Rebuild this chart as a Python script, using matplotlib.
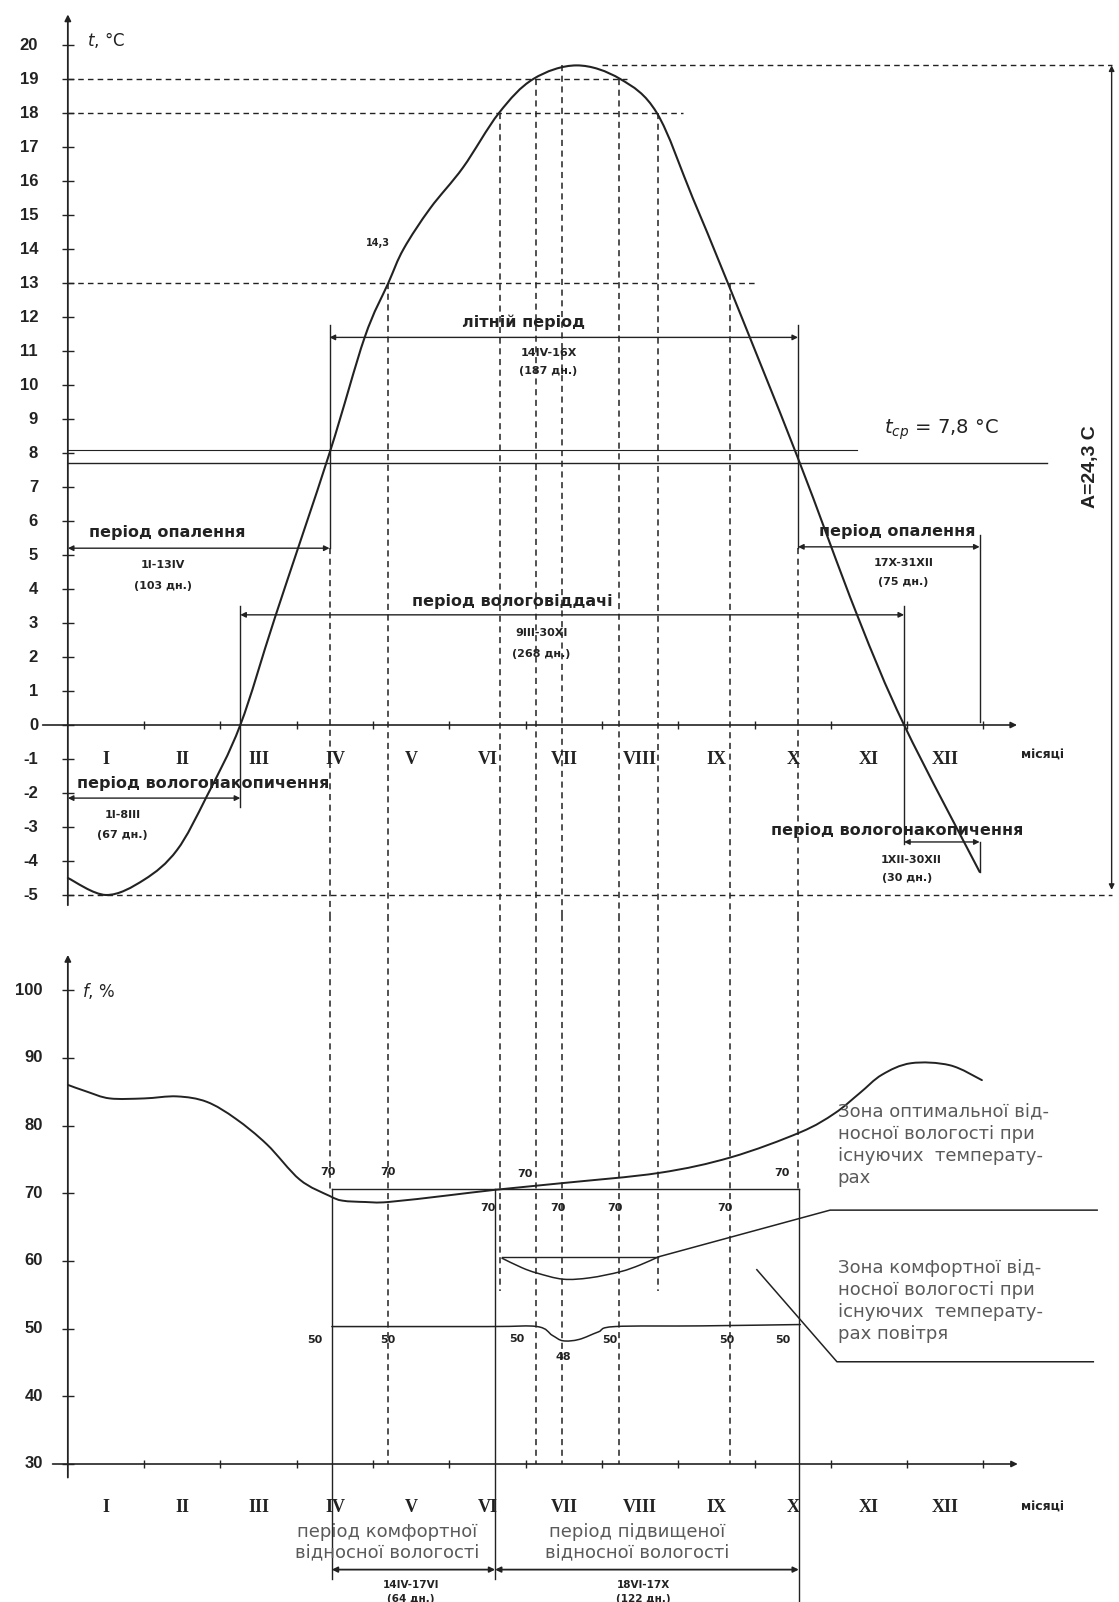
import numpy as np
import matplotlib
matplotlib.use("Agg")
import matplotlib.pyplot as plt
from matplotlib.path import Path
from matplotlib.patches import PathPatch

# ---- data (x = month number, I = 1 ... XII = 12) ----
months = ['I', 'II', 'III', 'IV', 'V', 'VI', 'VII', 'VIII', 'IX', 'X', 'XI', 'XII']

# mean air temperature, deg C
temp_x = [0.5, 1.0, 1.5, 1.93, 2.32, 2.76, 3.22, 3.93, 4.39, 4.70, 4.90, 5.25, 5.68,
          6.15, 6.60, 7.17, 7.74, 8.22, 8.69, 9.15, 10.06, 10.84, 11.46, 12.45]
temp_t = [-4.5, -5.0, -4.55, -3.68, -2.1, 0.0, 3.2, 8.0, 11.4, 13.0, 14.0, 15.2, 16.4,
          18.0, 19.0, 19.4, 19.0, 18.0, 15.5, 13.0, 7.9, 3.26, 0.0, -4.32]

# relative humidity, %
hum_x = [0.5, 0.75, 1.05, 1.5, 1.93, 2.32, 2.7, 3.11, 3.54, 3.93, 4.1, 4.4, 4.7, 5.5,
         6.1, 6.99, 8.25, 9.19, 10.1, 10.55, 10.88, 11.17, 11.55, 12.06, 12.48]
hum_f = [86.0, 85.0, 84.0, 84.0, 84.3, 83.5, 81.0, 77.2, 72.0, 69.6, 68.9, 68.7, 68.7,
         69.7, 70.5, 71.5, 73.0, 75.3, 79.0, 81.8, 84.8, 87.5, 89.2, 88.9, 86.7]

# lower bound of the optimal zone (50 % line with dip in July)
low_x = [3.96, 6.0, 6.65, 6.85, 6.99, 7.2, 7.45, 7.67, 8.8, 10.1]
low_f = [50.3, 50.3, 50.3, 49.0, 48.2, 48.4, 49.5, 50.3, 50.4, 50.6]
opt_top = 70.6

# comfort zone (June - August)
comf_top = 60.6
comf_x = [6.19, 6.45, 6.65, 6.99, 7.34, 7.74, 8.0, 8.24]
comf_f = [60.4, 59.0, 58.2, 57.3, 57.5, 58.4, 59.4, 60.6]
lead1_x = [8.24, 10.49, 13.99]
lead1_f = [60.6, 67.5, 67.5]
lead2_x = [9.53, 10.58, 13.94]
lead2_f = [58.7, 45.1, 45.1]

t_mean = 7.8
t_max, t_min = 19.4, -5.0
t_marks = [19, 18, 13]
t_mark_end = [7.83, 8.56, 9.5]

# periods (x positions of their dates)
summer = (3.93, 10.07)
heat_left = (0.5, 3.93)
heat_right = (10.07, 12.45)
moist_out = (2.76, 11.46)
moist_in_left = (0.5, 2.76)
moist_in_right = (11.46, 12.45)
comfort_per = (3.96, 6.10)
high_per = (6.10, 10.08)

# dashed guide lines: x, start temperature, end humidity
guide_x = [4.70, 6.17, 6.63, 6.98, 7.73, 8.24, 9.18]
guide_t = [13.0, 18.0, 19.0, 19.4, 19.0, 18.0, 13.0]
guide_f = [30, 55.5, 30, 30, 30, 55.5, 30]

t_ticks = list(range(-5, 21))
f_ticks = [30, 40, 50, 60, 70, 80, 90, 100]

# small value labels in the humidity chart
f_lab_x = [3.91, 4.70, 6.49, 9.86, 6.0, 6.92, 7.67, 9.11,
           3.74, 4.70, 6.39, 7.6, 9.14, 9.87, 6.99]
f_lab_y = [73.1, 73.1, 72.9, 73.0, 67.8, 67.8, 67.8, 67.8,
           48.3, 48.3, 48.5, 48.3, 48.3, 48.3, 45.8]
f_lab_s = ['70', '70', '70', '70', '70', '70', '70', '70',
           '50', '50', '50', '50', '50', '50', '48']

# ---- figure ----
W, H = 1119, 1602
split = 915
fig = plt.figure(figsize=(W / 100, H / 100), dpi=100)
fig.patch.set_facecolor('white')

xl = (1 + (0 - 106) / 76.3, 1 + (W - 106) / 76.3)
ax1 = fig.add_axes([0, (H - split) / H, 1, split / H])
ax2 = fig.add_axes([0, 0, 1, (H - split) / H])
ax1.set_xlim(*xl)
ax1.set_ylim((725 - split) / 34, 725 / 34)
ax2.set_xlim(*xl)
ax2.set_ylim(30 + (1464 - H) / 6.77, 30 + (1464 - split) / 6.77)
for a in (ax1, ax2):
    a.axis('off')

INK = '#222222'
DASH = (0, (4, 3))
bold = dict(family='DejaVu Sans', fontweight='bold', color=INK)
numf = dict(family='Liberation Sans', fontweight='bold', color=INK)
roman = dict(family='Liberation Serif', fontweight='bold', color=INK, fontsize=13)
note = dict(family='DejaVu Sans', color='#5a5a5a', fontsize=13)


def smooth(ax, xs, ys, lw=1.4):
    # Catmull-Rom through the read points, drawn as cubic Bezier path
    p = np.column_stack([xs, ys]).astype(float)
    verts = [p[0]]
    codes = [Path.MOVETO]
    n = len(p)
    for i in range(n - 1):
        p0 = p[i - 1] if i > 0 else p[i]
        p3 = p[i + 2] if i + 2 < n else p[i + 1]
        c1 = p[i] + (p[i + 1] - p0) / 6
        c2 = p[i + 1] - (p3 - p[i]) / 6
        verts += [c1, c2, p[i + 1]]
        codes += [Path.CURVE4] * 3
    ax.add_patch(PathPatch(Path(verts, codes), fill=False, lw=lw, ec=INK,
                           capstyle='round'))


def arrow(ax, x0, x1, y, style='<|-|>', lw=1.0, ms=8):
    ax.annotate('', xy=(x1, y), xytext=(x0, y),
                arrowprops=dict(arrowstyle=style, lw=lw, color=INK, mutation_scale=ms,
                                shrinkA=0, shrinkB=0))


def vline(ax, x, y0, y1, ls='-', lw=1.0):
    ax.plot([x, x], [y0, y1], ls=ls, lw=lw, color=INK)


def hline(ax, x0, x1, y, ls='-', lw=1.0):
    ax.plot([x0, x1], [y, y], ls=ls, lw=lw, color=INK)


# ================= temperature chart =================
ax1.annotate('', xy=(0.5, 20.9), xytext=(0.5, -5.3),
             arrowprops=dict(arrowstyle='-|>', lw=1.3, color=INK, mutation_scale=9,
                             shrinkA=0, shrinkB=0))
ax1.plot([0.5] * len(t_ticks), t_ticks, ls='none', marker='_', ms=8, color=INK)
for t in t_ticks:
    ax1.text(0.11, t, str(t), ha='right', va='center', fontsize=12, **numf)
ax1.text(0.75, 20.15, '$t$, °C', ha='left', va='center', fontsize=12,
         family='DejaVu Sans', color=INK)

# zero line with month ticks
arrow(ax1, 0.17, 12.94, 0, style='-|>', lw=1.2, ms=9)
ax1.plot(np.arange(1.5, 13), np.zeros(12), ls='none', marker='|', ms=6, color=INK)
for i, m in enumerate(months):
    ax1.text(i + 1, -1.0, m, ha='center', va='center', **roman)
ax1.text(13.27, -0.88, 'місяці', ha='center', va='center', fontsize=9, **bold)

# reference dashed horizontals
for t, xe in zip(t_marks, t_mark_end):
    hline(ax1, 0.5, xe, t, ls=DASH)
hline(ax1, 7.5, 14.18, t_max, ls=DASH)
hline(ax1, 0.5, 14.18, t_min, ls=DASH)

# mean temperature lines
hline(ax1, 0.5, 13.33, t_mean - 0.08, lw=1.0)
hline(ax1, 0.5, 10.84, t_mean + 0.28, lw=0.8)
ax1.text(11.2, 8.68, '$t_{ср}$ = 7,8 °C', ha='left', va='center', fontsize=14,
         family='DejaVu Sans', color=INK)

# amplitude
ax1.annotate('', xy=(14.18, t_max), xytext=(14.18, -4.85),
             arrowprops=dict(arrowstyle='<|-|>', lw=1.0, color=INK, mutation_scale=8,
                             shrinkA=0, shrinkB=0))
ax1.text(13.9, 7.6, 'A=24,3 C', rotation=90, ha='center', va='center', fontsize=14,
         **numf)

# temperature curve
smooth(ax1, temp_x, temp_t, lw=1.5)
ax1.text(4.57, 14.18, '14,3', ha='center', va='center', fontsize=7, **bold)

# summer period
vline(ax1, summer[0], 11.76, 5.2)
vline(ax1, summer[1], 11.76, 5.2)
arrow(ax1, summer[0], summer[1], 11.4)
ax1.text(6.47, 11.85, 'літній період', ha='center', va='center', fontsize=11.5, **bold)
ax1.text(6.8, 10.94, '14IV-16X', ha='center', va='center', fontsize=8, **bold)
ax1.text(6.8, 10.4, '(187 дн.)', ha='center', va='center', fontsize=8, **bold)

# heating periods
arrow(ax1, heat_left[0], heat_left[1], 5.2)
ax1.text(1.8, 5.65, 'період опалення', ha='center', va='center', fontsize=11.5, **bold)
ax1.text(1.75, 4.7, '1I-13IV', ha='center', va='center', fontsize=8, **bold)
ax1.text(1.75, 4.1, '(103 дн.)', ha='center', va='center', fontsize=8, **bold)

arrow(ax1, heat_right[0], heat_right[1], 5.24)
vline(ax1, heat_right[1], 5.6, 0.1)
ax1.text(11.37, 5.68, 'період опалення', ha='center', va='center', fontsize=11.5,
         **bold)
ax1.text(11.45, 4.76, '17X-31XII', ha='center', va='center', fontsize=8, **bold)
ax1.text(11.45, 4.2, '(75 дн.)', ha='center', va='center', fontsize=8, **bold)

# moisture release / accumulation
arrow(ax1, moist_out[0], moist_out[1], 3.24)
vline(ax1, moist_out[0], 3.5, -2.4)
vline(ax1, moist_out[1], 3.5, -3.5)
ax1.text(6.33, 3.62, 'період вологовіддачі', ha='center', va='center', fontsize=11.5,
         **bold)
ax1.text(6.71, 2.7, '9III-30XI', ha='center', va='center', fontsize=8, **bold)
ax1.text(6.71, 2.1, '(268 дн.)', ha='center', va='center', fontsize=8, **bold)

arrow(ax1, moist_in_left[0], moist_in_left[1], -2.15)
ax1.text(2.27, -1.72, 'період вологонакопичення', ha='center', va='center',
         fontsize=11.5, **bold)
ax1.text(1.22, -2.65, '1I-8III', ha='center', va='center', fontsize=8, **bold)
ax1.text(1.22, -3.24, '(67 дн.)', ha='center', va='center', fontsize=8, **bold)

arrow(ax1, moist_in_right[0], moist_in_right[1], -3.44)
vline(ax1, moist_in_right[1], -3.44, -4.32)
ax1.text(11.37, -3.1, 'період вологонакопичення', ha='center', va='center',
         fontsize=11.5, **bold)
ax1.text(11.55, -3.97, '1XII-30XII', ha='center', va='center', fontsize=8, **bold)
ax1.text(11.5, -4.5, '(30 дн.)', ha='center', va='center', fontsize=8, **bold)

# dashed guides in the top chart
ybot1 = ax1.get_ylim()[0]
vline(ax1, summer[0], 5.2, ybot1, ls=DASH, lw=1.1)
vline(ax1, summer[1], 5.2, ybot1, ls=DASH, lw=1.1)
for x, t in zip(guide_x, guide_t):
    vline(ax1, x, t, ybot1, ls=DASH, lw=1.1)

# ================= humidity chart =================
ytop2 = ax2.get_ylim()[1]
vline(ax2, summer[0], ytop2, opt_top, ls=DASH, lw=1.1)
vline(ax2, summer[1], ytop2, opt_top, ls=DASH, lw=1.1)
for x, f in zip(guide_x, guide_f):
    vline(ax2, x, ytop2, f, ls=DASH, lw=1.1)

ax2.annotate('', xy=(0.5, 105.2), xytext=(0.5, 28.0),
             arrowprops=dict(arrowstyle='-|>', lw=1.3, color=INK, mutation_scale=9,
                             shrinkA=0, shrinkB=0))
ax2.plot([0.5] * len(f_ticks), f_ticks, ls='none', marker='_', ms=8, color=INK)
for f in f_ticks:
    ax2.text(0.17, f, str(f), ha='right', va='center', fontsize=12, **numf)
ax2.text(0.69, 99.9, '$f$, %', ha='left', va='center', fontsize=12,
         family='DejaVu Sans', color=INK)

arrow(ax2, 0.3, 12.95, 30, style='-|>', lw=1.2, ms=9)
ax2.plot(np.arange(1.5, 13), np.full(12, 30.0), ls='none', marker='|', ms=6, color=INK)
for i, m in enumerate(months):
    ax2.text(i + 1, 23.6, m, ha='center', va='center', **roman)
ax2.text(13.27, 23.6, 'місяці', ha='center', va='center', fontsize=9, **bold)

# optimal zone box
hline(ax2, comfort_per[0], high_per[1], opt_top)
vline(ax2, comfort_per[0], opt_top, 13.0)
vline(ax2, comfort_per[1], opt_top, 13.0)
vline(ax2, high_per[1], opt_top, 9.6)
smooth(ax2, low_x, low_f, lw=1.1)

# comfort zone
hline(ax2, comf_x[0], comf_x[-1], comf_top)
smooth(ax2, comf_x, comf_f, lw=1.1)
ax2.plot(lead1_x, lead1_f, lw=1.1, color=INK)
ax2.plot(lead2_x, lead2_f, lw=1.1, color=INK)

# humidity curve
smooth(ax2, hum_x, hum_f, lw=1.4)

for x, y, s in zip(f_lab_x, f_lab_y, f_lab_s):
    ax2.text(x, y, s, ha='center', va='center', fontsize=8, **bold)

ax2.text(10.59, 83.4,
         'Зона оптимальної від-\nносної вологості при\nіснуючих  температу-\nрах',
         ha='left', va='top', linespacing=1.3, **note)
ax2.text(10.59, 60.3,
         'Зона комфортної від-\nносної вологості при\nіснуючих  температу-\nрах повітря',
         ha='left', va='top', linespacing=1.3, **note)

# period arrows under the axis
arrow(ax2, comfort_per[0], comfort_per[1], 14.4, lw=1.3)
arrow(ax2, high_per[0], high_per[1], 14.4, lw=1.3)
ax2.text(4.69, 19.9, 'період комфортної', ha='center', va='center', **note)
ax2.text(4.69, 17.0, 'відносної вологості', ha='center', va='center', **note)
ax2.text(7.96, 19.9, 'період підвищеної', ha='center', va='center', **note)
ax2.text(7.96, 17.0, 'відносної вологості', ha='center', va='center', **note)
ax2.text(5.0, 12.2, '14IV-17VI', ha='center', va='center', fontsize=7.5, **bold)
ax2.text(5.0, 10.0, '(64 дн.)', ha='center', va='center', fontsize=7.5, **bold)
ax2.text(8.04, 12.2, '18VI-17X', ha='center', va='center', fontsize=7.5, **bold)
ax2.text(8.04, 10.0, '(122 дн.)', ha='center', va='center', fontsize=7.5, **bold)

fig.savefig('out.png', dpi=100, facecolor='white')
